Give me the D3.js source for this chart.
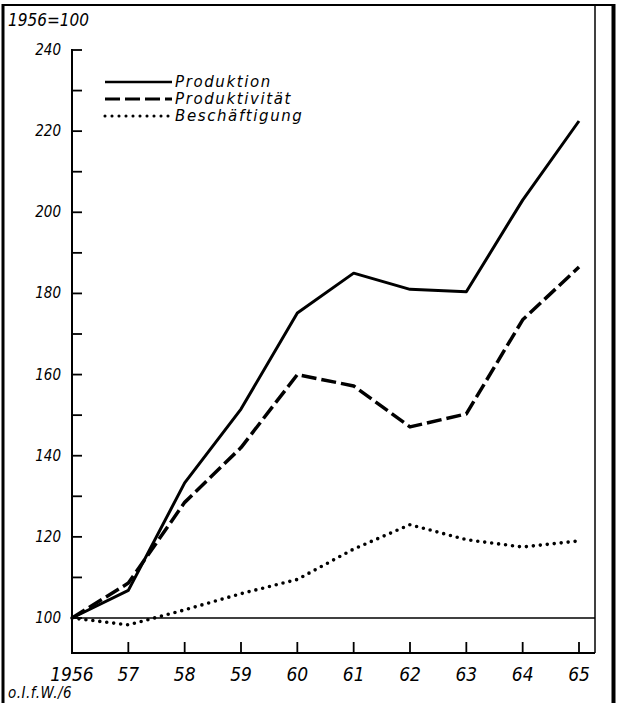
<!DOCTYPE html>
<html><head><meta charset="utf-8">
<script src="https://cdn.jsdelivr.net/npm/d3@7/dist/d3.min.js"></script>
<style>
body{margin:0;background:#fff;}
text{font-family:"DejaVu Sans Condensed","DejaVu Sans",sans-serif;font-style:oblique;fill:#000;}
</style></head>
<body><svg id="c" width="618" height="703" xmlns="http://www.w3.org/2000/svg"></svg>
<script>
const years = [1956,1957,1958,1959,1960,1961,1962,1963,1964,1965];
const yearLabels = ["1956","57","58","59","60","61","62","63","64","65"];
const produktion = [100,106.8,133.3,151.5,175.2,185,181,180.4,203,222.5];
const produktivitaet = [100,108.6,128.5,142,160,157.2,147.1,150.3,173.5,186.5];
const beschaeftigung = [100,98.3,102,106,109.5,117,123,119.3,117.5,119];
const yTicks = [100,120,140,160,180,200,220,240];
const yMinor = [110,130,150,170,190,210,230];
const seriesNames = ["Produktion","Produktivität","Beschäftigung"];

const svg = d3.select("#c");
const x = d3.scaleLinear().domain([1956,1965]).range([72,579]);
const y = d3.scaleLinear().domain([100,240]).range([618,50]);
const bottom = 653, left = 72, right = 595;

function ln(x1,y1,x2,y2,w){
  return svg.append("line").attr("x1",x1).attr("y1",y1).attr("x2",x2).attr("y2",y2)
    .attr("stroke","#000").attr("stroke-width",w);
}
// frame
ln(3,5,615,5,2);
ln(3,4,3,703,3);
ln(613.5,4,613.5,703,4);
ln(right,5,right,bottom,1.5);

// y axis
ln(left,y(240)-1,left,bottom+1,2);
yTicks.concat(yMinor).forEach(v=>ln(left,y(v),left+10,y(v),1.8));
svg.selectAll(".ylab").data(yTicks).enter().append("text")
  .attr("x",61).attr("y",d=>y(d)+5).attr("text-anchor","end")
  .style("font-size","15px").text(d=>d);

// x axis
ln(left,bottom,right,bottom,2);
years.slice(1).forEach(v=>ln(x(v),bottom,x(v),bottom-11,1.8));
svg.selectAll(".xlab").data(years).enter().append("text")
  .attr("x",d=>x(d)).attr("y",681).attr("text-anchor","middle")
  .style("font-size","19px").text((d,i)=>yearLabels[i]);

// baseline at 100
ln(left,y(100),right,y(100),1.6);

// titles
svg.append("text").attr("x",8).attr("y",26).style("font-size","17px").text("1956=100");
svg.append("text").attr("x",8).attr("y",698).style("font-size","15px").style("letter-spacing","0.5px").text("o.I.f.W./6");

// lines
const line = d3.line().x((d,i)=>x(years[i])).y(d=>y(d));
const styles = [
  {data:produktion, dash:null, w:3, cap:"butt"},
  {data:produktivitaet, dash:"15,5", w:3.5, cap:"butt"},
  {data:beschaeftigung, dash:"0,7", w:3.6, cap:"round"}
];
styles.forEach(s=>{
  svg.append("path").attr("d",line(s.data)).attr("fill","none").attr("stroke","#000")
    .attr("stroke-width",s.w).attr("stroke-dasharray",s.dash).attr("stroke-linecap",s.cap).attr("stroke-linejoin","round");
});

// legend
const legY = [82,99,116];
styles.forEach((s,i)=>{
  svg.append("line").attr("x1",105).attr("x2",172).attr("y1",legY[i]).attr("y2",legY[i])
    .attr("stroke","#000").attr("stroke-width",s.w-0.5).attr("stroke-dasharray",s.dash).attr("stroke-linecap",s.cap);
  svg.append("text").attr("x",175).attr("y",legY[i]+5)
    .style("font-family","'DejaVu Sans',sans-serif").style("font-size","15px").style("letter-spacing","1.6px")
    .text(seriesNames[i]);
});
</script></body></html>
